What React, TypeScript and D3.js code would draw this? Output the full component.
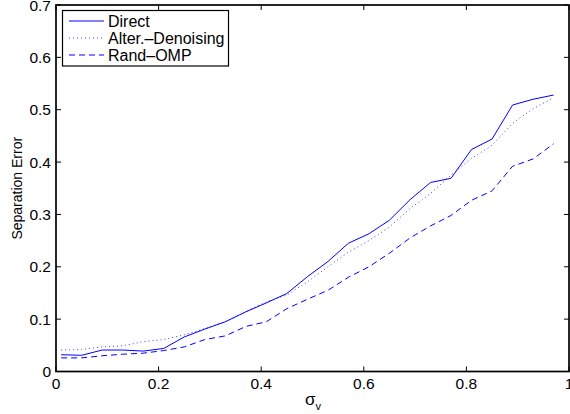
import React from 'react';
import * as d3 from 'd3';

const sigma = [0.01, 0.05, 0.09, 0.13, 0.17, 0.21, 0.25, 0.29, 0.33, 0.37, 0.41, 0.45, 0.49,
  0.53, 0.57, 0.61, 0.65, 0.69, 0.73, 0.77, 0.81, 0.85, 0.89, 0.93, 0.97];
const direct = [0.032, 0.031, 0.041, 0.041, 0.039, 0.044, 0.066, 0.081, 0.095, 0.114, 0.131, 0.149, 0.181,
  0.21, 0.245, 0.263, 0.289, 0.328, 0.361, 0.369, 0.424, 0.444, 0.509, 0.52, 0.528];
const alterDenoising = [0.041, 0.042, 0.047, 0.049, 0.057, 0.061, 0.07, 0.082, 0.095, 0.114, 0.133, 0.146, 0.171,
  0.2, 0.228, 0.25, 0.276, 0.311, 0.34, 0.375, 0.407, 0.432, 0.474, 0.502, 0.523];
const randOmp = [0.026, 0.026, 0.03, 0.033, 0.035, 0.04, 0.047, 0.061, 0.068, 0.086, 0.095, 0.12, 0.138,
  0.155, 0.18, 0.2, 0.226, 0.255, 0.278, 0.298, 0.327, 0.345, 0.392, 0.406, 0.435];

const xTicks = [0, 0.2, 0.4, 0.6, 0.8, 1];
const yTicks = [0, 0.1, 0.2, 0.3, 0.4, 0.5, 0.6, 0.7];

const series = [
  { name: 'Direct', values: direct, dash: 'none' },
  { name: 'Alter.\u2013Denoising', values: alterDenoising, dash: '1 3' },
  { name: 'Rand\u2013OMP', values: randOmp, dash: '6 4' },
];

const W = 570;
const H = 414;
const left = 56, right = 569, top = 5, bottom = 371.5;

export default function App() {
  const x = d3.scaleLinear().domain([0, 1]).range([left, right]);
  const y = d3.scaleLinear().domain([0, 0.7]).range([bottom, top]);
  const line = d3.line<number>().x((_, i) => x(sigma[i])).y(d => y(d));
  const font = 'Liberation Sans, Arial, sans-serif';
  const tick = 5;

  return (
    <svg width={W} height={H} style={{ position: 'absolute', left: 0, top: 0, background: '#fff' }}
      fontFamily={font}>
      {series.map(s => (
        <path key={s.name} d={line(s.values) || ''} fill="none" stroke="#0000ff"
          strokeWidth={1} strokeDasharray={s.dash} opacity={s.dash === '1 3' ? 0.75 : 1} />
      ))}

      {/* box */}
      <rect x={left} y={top} width={right - left} height={bottom - top} fill="none" stroke="#000" strokeWidth={1.7} />

      {xTicks.map(t => (
        <g key={'x' + t}>
          <line x1={x(t)} x2={x(t)} y1={bottom} y2={bottom - tick} stroke="#000" />
          <line x1={x(t)} x2={x(t)} y1={top} y2={top + tick} stroke="#000" />
          <text x={x(t)} y={389} textAnchor="middle" fontSize={15.5}>{String(t)}</text>
        </g>
      ))}
      {yTicks.map(t => (
        <g key={'y' + t}>
          <line x1={left} x2={left + tick} y1={y(t)} y2={y(t)} stroke="#000" />
          <line x1={right} x2={right - tick} y1={y(t)} y2={y(t)} stroke="#000" />
          <text x={51} y={y(t)} dy="0.36em" textAnchor="end" fontSize={15.5}>{String(t)}</text>
        </g>
      ))}

      <text transform={`translate(22,${(top + bottom) / 2}) rotate(-90)`} textAnchor="middle" fontSize={14}>
        Separation Error
      </text>
      <text x={305} y={405} fontSize={17}>
        σ<tspan fontSize={11} dy={5}>v</tspan>
      </text>

      {/* legend */}
      <rect x={62.5} y={10.5} width={166} height={55.5} fill="#fff" stroke="#000" strokeWidth={1.2} />
      {series.map((s, i) => {
        const ly = 21 + i * 17;
        return (
          <g key={'l' + s.name}>
            <line x1={69} x2={104} y1={ly} y2={ly} stroke="#0000ff" strokeDasharray={s.dash}
              opacity={s.dash === '1 3' ? 0.75 : 1} />
            <text x={108} y={ly} dy="0.36em" fontSize={16}>{s.name}</text>
          </g>
        );
      })}
    </svg>
  );
}
